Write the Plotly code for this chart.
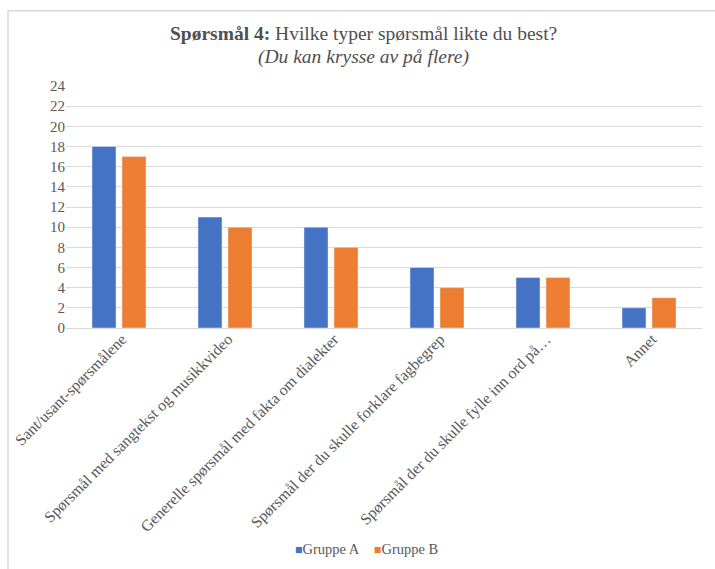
import plotly.graph_objects as go

categories = [
    "Sant/usant-spørsmålene",
    "Spørsmål med sangtekst og musikkvideo",
    "Generelle spørsmål med fakta om dialekter",
    "Spørsmål der du skulle forklare fagbegrep",
    "Spørsmål der du skulle fylle inn ord på…",
    "Annet",
]
gruppe_a = [18, 11, 10, 6, 5, 2]
gruppe_b = [17, 10, 8, 4, 5, 3]
y_ticks = list(range(0, 25, 2))

series_names = ["Gruppe A", "Gruppe B"]
series_colors = ["#4472C4", "#ED7D31"]

FONT = "Liberation Serif"
GREY = "#595959"

fig = go.Figure()
for name, values, color in zip(series_names, [gruppe_a, gruppe_b], series_colors):
    fig.add_trace(go.Bar(name=name, x=categories, y=values, marker_color=color, showlegend=False))

# Legend drawn as a single text line with small coloured squares
legend_text = "&nbsp;&nbsp;&nbsp;&nbsp;".join(
    f"<span style='color:{c};font-size:12.5px'>■</span>{n}" for n, c in zip(series_names, series_colors)
)

fig.update_layout(
    width=715,
    height=569,
    margin=dict(l=66, r=13, t=86, b=241),
    paper_bgcolor="white",
    plot_bgcolor="white",
    barmode="group",
    bargap=0.434,
    bargroupgap=0.2,
    font=dict(family=FONT, color=GREY, size=14),
    xaxis=dict(
        tickangle=-45,
        tickfont=dict(family=FONT, size=15.8, color=GREY),
        showline=False,
        ticks="",
        ticklabelshift=3,
        ticklabelstandoff=-2,
        automargin=False,
    ),
    yaxis=dict(
        range=[0, 24],
        tickvals=y_ticks,
        gridcolor="#d9d9d9",
        gridwidth=1,
        zeroline=True,
        zerolinecolor="#d9d9d9",
        zerolinewidth=1,
        tickfont=dict(family=FONT, size=15, color=GREY),
        ticks="",
        automargin=False,
    ),
    annotations=[
        dict(
            text="<b>Spørsmål 4:</b> Hvilke typer spørsmål likte du best?",
            xref="paper", yref="paper", x=0.4678, y=1.2167,
            xanchor="center", yanchor="middle", showarrow=False,
            font=dict(family=FONT, size=19.5, color="#505050"),
        ),
        dict(
            text="<i>(Du kan krysse av på flere)</i>",
            xref="paper", yref="paper", x=0.4678, y=1.1216,
            xanchor="center", yanchor="middle", showarrow=False,
            font=dict(family=FONT, size=19.5, color="#505050"),
        ),
        dict(
            text=legend_text,
            xref="paper", yref="paper", x=0.4725, y=-0.9135,
            xanchor="center", yanchor="middle", showarrow=False,
            font=dict(family=FONT, size=14.5, color=GREY),
        ),
    ],
    shapes=[
        dict(
            type="rect",
            xref="paper",
            yref="paper",
            x0=-0.0912,
            x1=1.2,
            y0=-1.3,
            y1=1.311,
            line=dict(color="#d9d9d9", width=1.5),
            fillcolor="rgba(0,0,0,0)",
            layer="below",
        )
    ],
)

fig.write_html("out.html")
